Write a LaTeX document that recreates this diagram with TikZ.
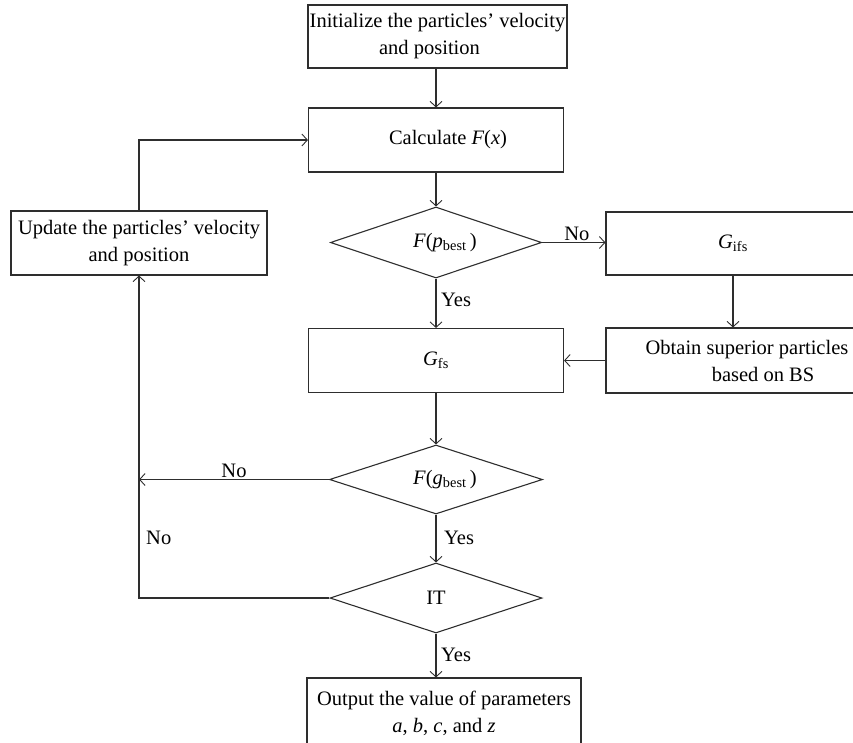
\documentclass[tikz,border=0pt]{standalone}
\usepackage{fontspec}
\setmainfont{Liberation Serif}
\usetikzlibrary{shapes.geometric,arrows.meta}
\definecolor{ln}{HTML}{2E2E2E}
\newcommand{\ital}[1]{\textit{#1}}
\begin{document}
\begin{tikzpicture}[x=1pt,y=-1pt,
  font=\fontsize{20.5}{27}\selectfont,
  box/.style={draw=ln,line width=1.1pt,rectangle,inner sep=0pt,align=center,text=black},
  dia/.style={draw=ln,line width=1.1pt,diamond,inner sep=0pt,aspect=3,text=black},
  arr/.style={draw=ln,line width=1.1pt,-{Straight Barb[length=5.5pt,width=12pt,line width=0.9pt]}},
  lab/.style={text=black,inner sep=1pt}]
\useasboundingbox (0,0) rectangle (853,742);
\clip (0,0) rectangle (853,742);
\node[box,minimum width=259pt,minimum height=63pt] (init) at (437.5,36.5) {Initialize the particles' velocity\\and position\hspace*{16pt}};
\node[box,minimum width=255pt,minimum height=64pt] (calc) at (436,140) {\hspace*{24pt}Calculate \ital{F}(\ital{x})};
\node[dia,minimum width=211pt,minimum height=71pt] (d1) at (436,242.5) {\hspace*{18pt}\ital{F}(\ital{p}\textsubscript{best}\,)};
\node[box,minimum width=256pt,minimum height=64pt] (update) at (139,243) {Update the particles' velocity\\and position};
\node[box,minimum width=254pt,minimum height=63pt] (gifs) at (733,243.5) {\ital{G}\textsubscript{ifs}};
\node[box,minimum width=255pt,minimum height=64pt] (gfs) at (436,360.5) {\ital{G}\textsubscript{fs}};
\node[box,minimum width=254pt,minimum height=65pt] (obtain) at (733,360.5) {\hspace*{28pt}Obtain superior particles\\\hspace*{60pt}based on BS};
\node[dia,minimum width=213pt,minimum height=69pt] (d2) at (436,479.5) {\hspace*{18pt}\ital{F}(\ital{g}\textsubscript{best}\,)};
\node[dia,minimum width=212pt,minimum height=70pt] (it) at (436,598) {IT};
\node[box,minimum width=274pt,minimum height=70pt] (out) at (444,713) {Output the value of parameters\\\ital{a}, \ital{b}, \ital{c}, and \ital{z}};
\coordinate (j1) at (update.north |- calc.west);
\coordinate (j2) at (update.south |- d2.west);
\coordinate (j3) at (update.south |- it.west);
\draw[arr] (init.south -| calc.north) -- (calc.north);
\draw[arr] (update.north) -- (j1) -- (calc.west);
\draw[arr] (calc.south) -- (d1.north);
\draw[arr] (d1.east) -- node[lab,above,pos=0.55] {No} (d1.east -| gifs.west);
\draw[arr] (d1.south) -- (gfs.north);
\node[lab,anchor=west] (y1) at (440,300) {Yes};
\draw[arr] (gifs.south) -- (obtain.north);
\draw[arr] (obtain.west) -- (gfs.east);
\draw[arr] (gfs.south) -- (d2.north);
\draw[arr] (d2.west) -- node[lab,above,pos=0.5] {No} (j2);
\draw[arr] (d2.south) -- (it.north);
\node[lab,anchor=west] (y2) at (443,538) {Yes};
\draw[arr] (it.west) -- (j3) -- (update.south);
\node[lab,anchor=west] (n3) at (145,538) {No};
\draw[arr] (it.south) -- (it.south |- out.north);
\node[lab,anchor=west] (y3) at (440,655) {Yes};
\end{tikzpicture}
\end{document}
